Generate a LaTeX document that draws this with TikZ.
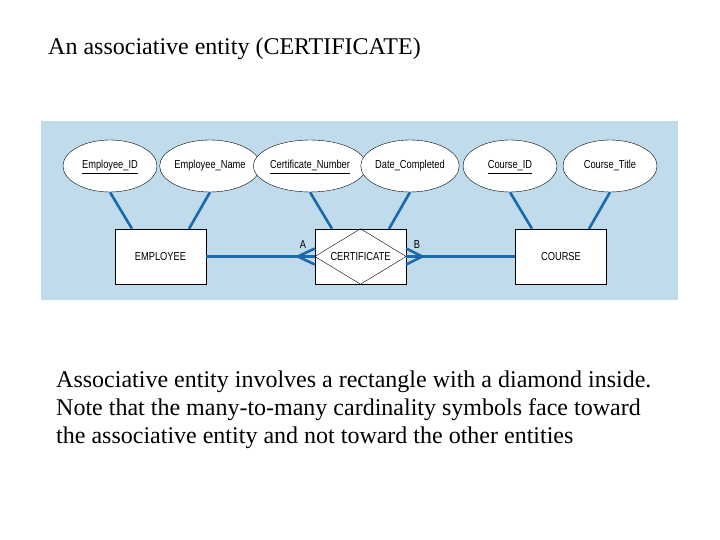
\documentclass[tikz,border=0pt]{standalone}
\usepackage{fontspec}
\setmainfont{Liberation Serif}
\newfontfamily\narrowfont[FakeStretch=0.8]{Liberation Sans}
\usepackage{tikz}
\usetikzlibrary{shapes.geometric}
\usetikzlibrary{calc}
\definecolor{panelblue}{RGB}{192,220,236}
\definecolor{linkblue}{RGB}{28,104,172}
\tikzset{
  erfont/.style={font=\narrowfont\fontsize{11.6}{13}\selectfont},
  attr/.style={ellipse, draw, fill=white, minimum width=94pt, minimum height=52pt, inner sep=0pt, text height=8.5pt, text depth=2.5pt, erfont},
  entity/.style={rectangle, draw, fill=white, minimum width=91pt, minimum height=55pt, inner sep=0pt, erfont},
  link/.style={draw=linkblue, line width=2.6pt},
  prose/.style={anchor=base west, inner sep=0pt, font=\fontsize{24}{28}\selectfont}
}

\begin{document}
\begin{tikzpicture}[x=1pt,y=-1pt]
\useasboundingbox (0,0) rectangle (720,540);
% title
\node[prose] (title) at (48,55) {An associative entity (CERTIFICATE)};
% blue panel
\fill[panelblue] (41,121) rectangle (678,300);
\begin{scope}
% draws attributes
\node[attr] (eid) at (110,166) {\underline{Employee\_ID}};
\node[attr] (ename) at (210,166) {Employee\_Name};
\node[attr] (cnum) at (310,166) {\underline{Certificate\_Number}};
\node[attr] (date) at (410,166) {Date\_Completed};
\node[attr] (cid) at (510,166) {\underline{Course\_ID}};
\node[attr] (ctitle) at (610,166) {Course\_Title};
% draws entities
\node[entity] (emp) at (160.5,256.5) {EMPLOYEE};
\node[entity] (cert) at (360.5,256.5) {};
\node[entity] (course) at (561,256.5) {COURSE};
\draw (cert.west) -- (cert.north) -- (cert.east) -- (cert.south) -- cycle;
\node[erfont] (certname) at (cert) {CERTIFICATE};
% draws attribute links
\draw[link] (eid.south) -- ([xshift=-28.5pt]emp.north);
\draw[link] (ename.south) -- ([xshift=28.5pt]emp.north);
\draw[link] (cnum.south) -- ([xshift=-28.5pt]cert.north);
\draw[link] (date.south) -- ([xshift=28.5pt]cert.north);
\draw[link] (cid.south) -- ([xshift=-29pt]course.north);
\draw[link] (ctitle.south) -- ([xshift=28pt]course.north);
% draws relationship lines with crow's feet
\coordinate (footA) at ($(cert.west)+(-17,0)$);
\coordinate (footB) at ($(cert.east)+(16,0)$);
\draw[link] (emp.east) -- (cert.west);
\draw[link] ($(cert.west)+(0,-8)$) -- (footA) -- ($(cert.west)+(0,8)$);
\draw[link] (cert.east) -- (course.west);
\draw[link] ($(cert.east)+(0,-8)$) -- (footB) -- ($(cert.east)+(0,8)$);
% labels cardinalities
\node[erfont] (labA) at (303,245) {A};
\node[erfont] (labB) at (417,245) {B};
\end{scope}
% caption
\node[prose] (line1) at (56,387) {Associative entity involves a rectangle with a diamond inside.};
\node[prose] (line2) at (56,415) {Note that the many-to-many cardinality symbols face toward};
\node[prose] (line3) at (56,443) {the associative entity and not toward the other entities};
\end{tikzpicture}
\end{document}
